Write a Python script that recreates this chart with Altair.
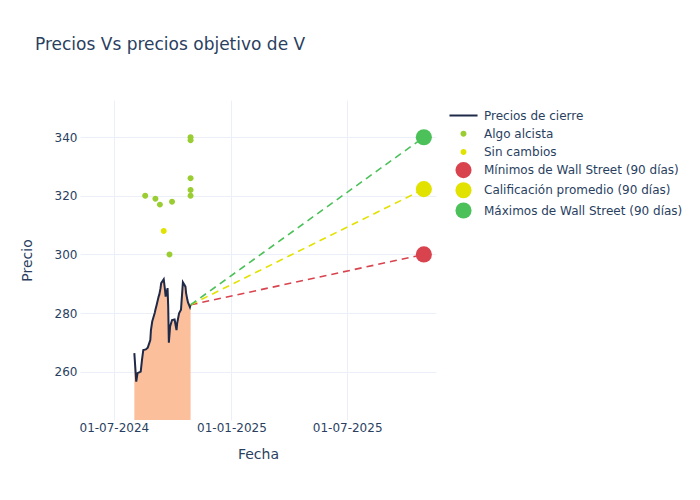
import altair as alt
import pandas as pd

# Closing prices
close_dates = [
    "2024-08-02", "2024-08-05", "2024-08-07", "2024-08-12", "2024-08-14", "2024-08-16",
    "2024-08-20", "2024-08-23", "2024-08-27", "2024-08-28", "2024-08-30", "2024-09-03",
    "2024-09-04", "2024-09-06", "2024-09-09", "2024-09-10", "2024-09-12", "2024-09-13",
    "2024-09-17", "2024-09-19", "2024-09-20", "2024-09-23", "2024-09-24", "2024-09-25",
    "2024-09-27", "2024-09-30", "2024-10-04", "2024-10-07", "2024-10-08", "2024-10-11",
    "2024-10-14", "2024-10-17", "2024-10-21", "2024-10-22", "2024-10-24", "2024-10-25",
    "2024-10-28", "2024-10-29",
]
close_prices = [
    266.3, 256.6, 259.5, 260.0, 264.0, 267.4,
    267.6, 268.2, 270.8, 274.2, 277.1, 280.1,
    281.1, 282.8, 285.6, 286.2, 288.5, 290.2,
    291.5, 287.9, 285.6, 288.5, 282.2, 269.9,
    275.4, 277.6, 277.8, 274.2, 276.5, 279.9,
    281.1, 290.5, 289.0, 286.8, 284.5, 283.6,
    282.0, 282.8,
]

# Analyst price targets
rating_dates = [
    "2024-08-19", "2024-09-04", "2024-09-11", "2024-09-17", "2024-09-26", "2024-09-30",
    "2024-10-29", "2024-10-29", "2024-10-29", "2024-10-29", "2024-10-29",
]
rating_prices = [320, 319, 317, 308, 300, 318, 340, 339, 326, 322, 320]
rating_labels = [
    "Algo alcista", "Algo alcista", "Algo alcista", "Sin cambios", "Algo alcista", "Algo alcista",
    "Algo alcista", "Algo alcista", "Algo alcista", "Algo alcista", "Algo alcista",
]

# Wall Street 90-day targets
target_date = "2025-10-29"
target_names = [
    "Mínimos de Wall Street (90 días)",
    "Calificación promedio (90 días)",
    "Máximos de Wall Street (90 días)",
]
target_values = [300, 322.3, 340]

legend_names = ["Precios de cierre", "Algo alcista", "Sin cambios"] + target_names
legend_colors = ["#1f2a48", "#9acd32", "#e2e200", "#d9434e", "#e2e200", "#4cc15a"]
line_path = "M-1.74,-0.124H1.74V0.124H-1.74Z"
dot_path = "M0.37,0A0.37,0.37 0 1,1 -0.37,0A0.37,0.37 0 1,1 0.37,0Z"
legend_shapes = [line_path, dot_path, dot_path, "circle", "circle", "circle"]
SYMBOL_SIZE = 260

FONT = "DejaVu Sans"
TEXT = "#2a3f5f"
Y_MIN, Y_MAX = 243.5, 352.7

close_df = pd.DataFrame({"Fecha": pd.to_datetime(close_dates), "Precio": close_prices})
points_df = pd.DataFrame({
    "Fecha": pd.to_datetime(rating_dates + [target_date] * len(target_names)),
    "Precio": rating_prices + target_values,
    "serie": rating_labels + target_names,
})
last_date = close_dates[-1]
last_price = close_prices[-1]
dash_rows = []
for n, v in zip(target_names, target_values):
    dash_rows.append({"Fecha": last_date, "Precio": last_price, "serie": n})
    dash_rows.append({"Fecha": target_date, "Precio": v, "serie": n})
dash_df = pd.DataFrame(dash_rows)
dash_df["Fecha"] = pd.to_datetime(dash_df["Fecha"])

x_scale = alt.Scale(
    domain=[alt.DateTime(year=2024, month=5, date=9), alt.DateTime(year=2025, month=11, date=17)],
    nice=False,
)
y_scale = alt.Scale(domain=[Y_MIN, Y_MAX], nice=False, zero=False)

x_enc = alt.X(
    "Fecha:T", scale=x_scale, title="Fecha",
    axis=alt.Axis(
        values=[alt.DateTime(year=2024, month=7, date=1), alt.DateTime(year=2025, month=1, date=1),
                alt.DateTime(year=2025, month=7, date=1)],
        format="%d-%m-%Y", labelPadding=2, titlePadding=14, labelAngle=0,
    ),
)
y_enc = alt.Y(
    "Precio:Q", scale=y_scale, title="Precio",
    axis=alt.Axis(values=[260, 280, 300, 320, 340], labelPadding=3, titlePadding=20),
)

area = alt.Chart(close_df).mark_area(color="#fbbf9b", opacity=1).encode(
    x=x_enc, y=y_enc, y2=alt.datum(Y_MIN)
)
line = alt.Chart(close_df).mark_line(color="#1f2a48", strokeWidth=2).encode(x=x_enc, y=y_enc)

dash_layers = []
for n, c in zip(target_names, legend_colors[3:]):
    dash_layers.append(
        alt.Chart(dash_df).transform_filter(alt.datum.serie == n)
        .mark_line(color=c, strokeDash=[7, 5], strokeWidth=1.6)
        .encode(x=x_enc, y=y_enc)
    )

leg = alt.Legend(title=None, orient="none", legendX=375, legendY=7, symbolSize=SYMBOL_SIZE)
points = alt.Chart(points_df).mark_point(filled=True, opacity=1, strokeWidth=0, size=SYMBOL_SIZE).encode(
    x=x_enc, y=y_enc,
    color=alt.Color("serie:N", scale=alt.Scale(domain=legend_names, range=legend_colors), legend=leg),
    shape=alt.Shape("serie:N", scale=alt.Scale(domain=legend_names, range=legend_shapes), legend=leg),
)

chart = alt.layer(area, line, *dash_layers, points).properties(
    width=356, height=320,
    autosize=alt.AutoSizeParams(type="none"),
    padding={"left": 72, "top": 92, "right": 256, "bottom": 72},
    title=alt.TitleParams(
        "Precios Vs precios objetivo de V", anchor="start", frame="group", dx=-45, offset=33,
        baseline="alphabetic", fontSize=17, font=FONT, color=TEXT, fontWeight="normal",
    ),
).configure_view(stroke=None).configure_axis(
    grid=True, gridColor="#ebf0f8", gridWidth=1, domain=False, ticks=False,
    labelFont=FONT, labelFontSize=12, labelColor=TEXT,
    titleFont=FONT, titleFontSize=14, titleColor=TEXT, titleFontWeight="normal",
).configure_legend(
    labelFont=FONT, labelFontSize=12, labelColor=TEXT, padding=0, rowPadding=3.2,
    labelOffset=12, symbolStrokeWidth=0, labelLimit=400, symbolSize=SYMBOL_SIZE,
)

chart.save("out.html", embed_options={"renderer": "svg", "actions": False})
